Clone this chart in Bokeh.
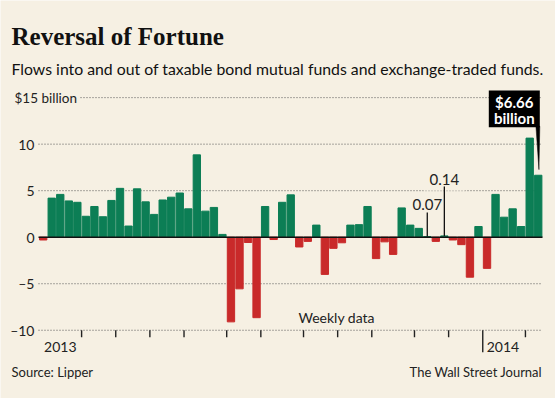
import pandas as pd
from bokeh.plotting import figure
from bokeh.models import ColumnDataSource, FixedTicker, Label
from bokeh.core.properties import value
from bokeh.embed import file_html
from bokeh.resources import INLINE

# ---- data (weekly flows, $ billion; weeks ending Wednesday) ----
week_start = "2013-01-02"
flows = [-0.3, 4.2, 4.6, 3.9, 3.75, 2.25, 3.3, 2.2, 3.95, 5.25,
         1.2, 5.2, 3.8, 2.45, 4.0, 4.3, 4.75, 3.05, 8.85, 2.8,
         3.2, 0.3, -9.1, -5.55, -0.57, -8.65, 3.3, -0.25, 3.75, 4.55,
         -1.05, -0.45, 1.3, -4.0, -1.2, -0.6, 1.3, 1.35, 3.3, -2.3,
         -0.5, -1.85, 3.15, 1.3, 0.95, 0.07, -0.45, 0.14, -0.3, -0.8,
         -4.3, 1.15, -3.35, 4.6, 2.15, 3.05, 1.15, 10.65, 6.66]
y_ticks = [-10, -5, 0, 5, 10, 15]
y_tick_labels = {-10: "\u201310", -5: "\u20135", 0: "0", 5: "5", 10: "10", 15: ""}
annotated = [0.07, 0.14]

BG = "#f6f0e3"
GREEN = "#0c7e55"
RED = "#c92a2a"
INK = "#222222"
FONT = "Lato"

W, H = 555, 398
# plot-area placement (pixels inside the figure)
PX0, PX1 = 38, 542           # left / right edge of the bar area
XA0, XA1 = -0.55, 58.5       # data at those edges
ZERO_PX, PX_PER_Y = 236.7, 9.304
kx = (PX1 - PX0) / (XA1 - XA0)
x_start = XA0 - PX0 / kx
x_end = XA1 + (W - PX1) / kx
y_end = ZERO_PX / PX_PER_Y
y_start = -(H - ZERO_PX) / PX_PER_Y


def X(px):
    return x_start + px / kx


def Y(py):
    return y_end - py / PX_PER_Y


dates = pd.date_range(week_start, periods=len(flows), freq="7D")
idx = list(range(len(flows)))
colors = [GREEN if v >= 0 else RED for v in flows]
src = ColumnDataSource(dict(x=idx, top=flows, color=colors))

p = figure(width=W, height=H, output_backend="svg", toolbar_location=None,
           x_range=(x_start, x_end), y_range=(y_start, y_end),
           min_border=0, min_border_left=0, min_border_right=0,
           min_border_top=0, min_border_bottom=0)
p.background_fill_color = BG
p.border_fill_color = BG
p.outline_line_color = None
p.xaxis.visible = False
p.xgrid.visible = False
p.ygrid.visible = False

yax = p.yaxis[0]
yax.fixed_location = XA0
yax.ticker = FixedTicker(ticks=y_ticks)
yax.major_label_overrides = y_tick_labels
yax.axis_line_color = None
yax.major_tick_line_color = None
yax.minor_tick_line_color = None
yax.major_tick_out = 0
yax.major_tick_in = 0
yax.major_label_standoff = 4
yax.major_label_text_font = FONT
yax.major_label_text_font_size = "14px"
yax.major_label_text_color = INK

# dotted grid lines across the bar area
grid_ticks = [t for t in y_ticks if t != 0]
p.segment(x0=[XA0] * len(grid_ticks), x1=[XA1] * len(grid_ticks), y0=grid_ticks, y1=grid_ticks,
          line_color="#555555", line_dash="1 2", line_width=1)

p.vbar(x="x", top="top", bottom=0, width=0.86, color="color", source=src)
p.segment(x0=[XA0], x1=[XA1], y0=[0], y1=[0], line_color="#111111", line_width=1.5)

# month ticks at boundaries between weeks
mt_x, mt_len = [], []
for i in range(1, len(dates)):
    if dates[i].month != dates[i - 1].month:
        mt_x.append(i - 0.5)
        mt_len.append(22 if dates[i].month == 1 else 7)
p.segment(x0=mt_x, y0=[-10] * len(mt_x), x1=mt_x,
          y1=[-10 - l / PX_PER_Y for l in mt_len],
          line_color=INK, line_width=1.4)

# year labels
jan13 = [i for i, d in enumerate(dates) if d.year == 2013 and d.month == 1]
x2013 = sum(jan13) / len(jan13)
x2014 = [x for x, l in zip(mt_x, mt_len) if l == 22][0]
p.text(x=[x2013], y=[Y(346.2)], text=["2013"], text_align="center", text_baseline="middle",
       text_font=value(FONT), text_font_size="14px", text_color=INK)
p.text(x=[x2014], y=[Y(346.2)], text=["2014"], text_align="left", text_baseline="middle",
       x_offset=4, text_font=value(FONT), text_font_size="14px", text_color=INK)

p.text(x=[X(298)], y=[Y(316.7)], text=["Weekly data"], text_align="left", text_baseline="middle",
       text_font=value(FONT), text_font_size="14px", text_color=INK)

# small-value annotations
i07 = flows.index(annotated[0])
i14 = flows.index(annotated[1])
p.add_layout(Label(x=i14, y=Y(178.5), text=f"{annotated[1]:.2f}", text_align="center",
                   text_baseline="middle", text_font=FONT, text_font_size="15px",
                   text_color=INK, background_fill_color=BG, padding=6))
p.text(x=[i07], y=[Y(204)], text=[f"{annotated[0]:.2f}"], text_align="center",
       text_baseline="middle", text_font=value(FONT), text_font_size="15px", text_color=INK)
p.segment(x0=[i07, i14], y0=[annotated[0], annotated[1]], x1=[i07, i14], y1=[Y(212), Y(186)],
          line_color="#111111", line_width=1.3, level="overlay")

# callout for the latest week
last_i = idx[-1]
last_v = flows[-1]
box_l, box_r = X(488.3), X(539.3)
box_t, box_b = Y(90), Y(126.7)
p.quad(left=[box_l], right=[box_r], top=[box_t], bottom=[box_b],
       fill_color="black", line_color=None)
p.patch(x=[box_r - 0.45, box_r, box_r - 0.1], y=[box_b + 0.1, box_b + 0.1, last_v + 0.6],
        fill_color="black", line_color="black", line_width=0.5)
cx = (box_l + box_r) / 2
p.text(x=[cx, cx], y=[Y(101.9), Y(117.8)], text=[f"${last_v:.2f}", "billion"],
       text_align="center", text_baseline="middle", text_font=value(FONT),
       text_font_size="15px", text_font_style="bold", text_color="white")

# $15 billion label (covers the start of the top grid line)
p.add_layout(Label(x=X(11), y=15, text="$15 billion",
                   text_baseline="middle", text_font=FONT, text_font_size="13.5px",
                   text_color=INK, background_fill_color=BG, padding=3))

# titles and notes
p.add_layout(Label(x=X(11), y=Y(36.2), text="Reversal of Fortune",
                   text_baseline="middle", text_font="Liberation Serif", text_font_size="25px",
                   text_font_style="bold", text_color="#111111"))
p.add_layout(Label(x=X(11), y=Y(68.2),
                   text="Flows into and out of taxable bond mutual funds and exchange-traded funds.",
                   text_baseline="middle", text_font=FONT, text_font_size="15.8px",
                   text_color="#111111"))
p.add_layout(Label(x=X(11), y=Y(371.5), text="Source: Lipper",
                   text_baseline="middle", text_font=FONT, text_font_size="13px",
                   text_color=INK))
p.add_layout(Label(x=X(541.7), y=Y(371.5), text="The Wall Street Journal",
                   text_align="right", text_baseline="middle", text_font=FONT,
                   text_font_size="13px", text_color=INK))

open("out.html", "w").write(file_html(p, INLINE))
